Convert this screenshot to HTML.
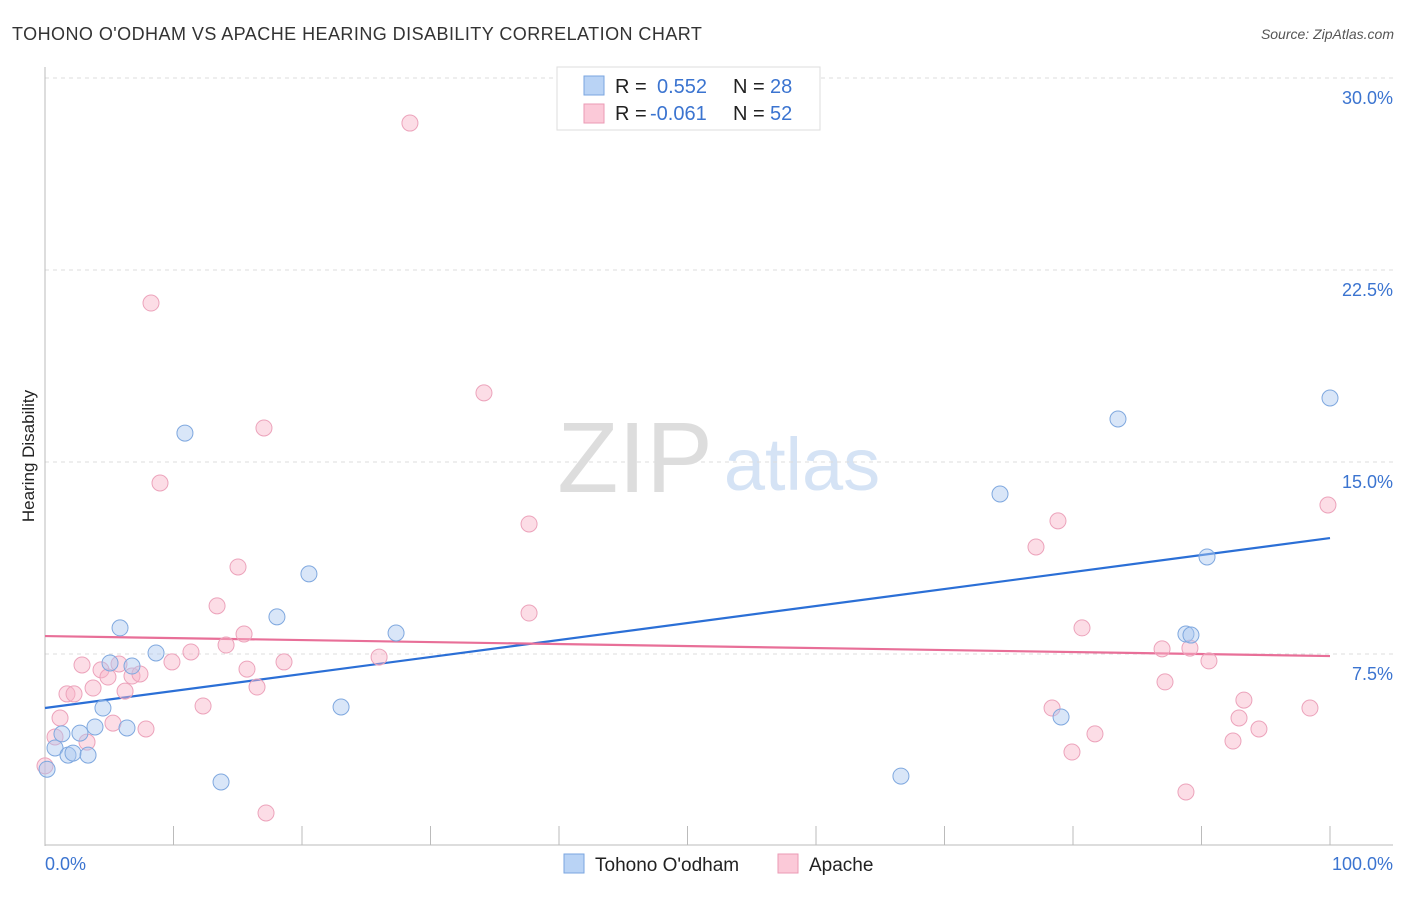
<!DOCTYPE html>
<html><head><meta charset="utf-8"><style>
body{margin:0;background:#fff;font-family:"Liberation Sans",sans-serif;}
svg text{font-family:"Liberation Sans",sans-serif;}
</style></head><body>
<svg id="c" width="1406" height="892" xmlns="http://www.w3.org/2000/svg">
<text x="12" y="40" font-size="18" letter-spacing="0.45" fill="#333">TOHONO O'ODHAM VS APACHE HEARING DISABILITY CORRELATION CHART</text>
<text x="1394" y="39" font-size="14" fill="#555" font-style="italic" text-anchor="end">Source: ZipAtlas.com</text>
<text x="34" y="456" font-size="17" fill="#222" text-anchor="middle" transform="rotate(-90 34 456)">Hearing Disability</text>
<g><text x="635" y="492" font-size="100" fill="#ddd" font-family="Liberation Serif" text-anchor="middle">ZIP</text><text x="802" y="490" font-size="74" fill="#d5e3f5" text-anchor="middle">atlas</text></g>
<g id="grid"></g><g id="axes"></g><g id="lines"></g><g id="pts"></g>
<g>
<rect x="557" y="67" width="263" height="63" fill="#fff" stroke="#ddd"/>
<rect x="584" y="76" width="20" height="19" fill="#b9d3f5" stroke="#7aa6e0"/>
<rect x="584" y="104" width="20" height="19" fill="#fbc9d8" stroke="#eb9ab4"/>
<text x="615" y="93" font-size="20" fill="#222">R =</text><text x="657" y="93" font-size="20" fill="#3b74d0">0.552</text>
<text x="733" y="93" font-size="20" fill="#222">N =</text><text x="770" y="93" font-size="20" fill="#3b74d0">28</text>
<text x="615" y="120" font-size="20" fill="#222">R =</text><text x="650" y="120" font-size="20" fill="#3b74d0">-0.061</text>
<text x="733" y="120" font-size="20" fill="#222">N =</text><text x="770" y="120" font-size="20" fill="#3b74d0">52</text>
</g>
<g>
<rect x="564" y="854" width="20" height="19" fill="#b9d3f5" stroke="#7aa6e0"/>
<text x="595" y="871" font-size="19" fill="#222">Tohono O'odham</text>
<rect x="778" y="854" width="20" height="19" fill="#fbc9d8" stroke="#eb9ab4"/>
<text x="809" y="871" font-size="19" fill="#222">Apache</text>
</g>
</svg>
<script>
const yTicks=[7.5,15,22.5,30];
const yTickLabels=["7.5%","15.0%","22.5%","30.0%"];
const xTickVals=[0,10,20,30,40,50,60,70,80,90,100];
const blueX=[0.16,0.78,1.32,1.79,2.18,2.72,3.35,3.89,4.51,5.06,5.84,6.38,6.77,8.64,10.89,13.7,18.05,20.54,23.04,27.32,66.61,74.32,79.07,83.5,88.79,89.18,90.43,100];
const blueY=[3.0,3.83,4.38,3.55,3.63,4.41,3.55,4.65,5.39,7.15,8.52,4.61,7.03,7.54,16.13,2.5,8.95,10.63,5.43,8.32,2.73,13.75,5.04,16.68,8.28,8.24,11.29,17.5];
const pinkX=[0,0.78,1.17,1.71,2.26,2.88,3.27,3.74,4.36,4.9,5.29,5.76,6.23,6.77,7.39,7.86,8.25,8.95,9.88,11.36,12.3,13.39,14.09,15.02,15.49,15.72,16.5,17.04,17.2,18.6,26.0,28.4,34.16,37.67,37.67,77.12,78.37,78.83,79.92,80.7,81.71,86.93,87.16,88.79,89.1,90.58,92.45,92.92,93.3,94.47,98.44,99.84];
const pinkY=[3.13,4.26,5.0,5.94,5.94,7.07,4.06,6.17,6.88,6.6,4.8,7.11,6.05,6.64,6.72,4.57,21.21,14.18,7.19,7.58,5.47,9.38,7.85,10.9,8.28,6.91,6.21,16.33,1.29,7.19,7.38,28.24,17.7,12.58,9.1,11.68,5.39,12.7,3.67,8.52,4.38,7.7,6.41,2.11,7.73,7.23,4.1,5.0,5.7,4.57,5.39,13.32];
const blueTrend=[5.39,12.03];
const pinkTrend=[8.2,7.42];
const NS="http://www.w3.org/2000/svg";
const X=v=>45+v*12.85;
const Y=v=>846-v*25.6;
function mk(t,a,p){const e=document.createElementNS(NS,t);for(const k in a)e.setAttribute(k,a[k]);document.getElementById(p).appendChild(e);return e;}
yTicks.forEach((t,i)=>{
 const l=mk('line',{x1:45,x2:1393,y1:Y(t),y2:Y(t),stroke:'#ddd','stroke-dasharray':'4,4'},'grid');
 
 
 const tx=mk('text',{x:1393,y:Y(t)+26,'font-size':18,fill:'#3b74d0','text-anchor':'end'},'grid');
 tx.textContent=yTickLabels[i];
 
 
});
mk('line',{x1:45,x2:45,y1:67,y2:846,stroke:'#bbb'},'axes');
mk('line',{x1:45,x2:1393,y1:845,y2:845,stroke:'#bbb'},'axes');
xTickVals.forEach(v=>{const l=mk('line',{x1:X(v),x2:X(v),y1:826,y2:845,stroke:'#bbb'},'axes');
 
 });
let t0=mk('text',{x:45,y:870,'font-size':18,fill:'#3b74d0'},'axes');t0.textContent='0.0%';


let t1=mk('text',{x:1393,y:870,'font-size':18,fill:'#3b74d0','text-anchor':'end'},'axes');t1.textContent='100.0%';


pinkX.forEach((x,i)=>{const c=mk('circle',{cx:X(x),cy:Y(pinkY[i]),r:8,fill:'rgba(248,180,200,0.45)',stroke:'#eca3bb','stroke-width':1},'pts');
 
 });
blueX.forEach((x,i)=>{const c=mk('circle',{cx:X(x),cy:Y(blueY[i]),r:8,fill:'rgba(170,200,240,0.45)',stroke:'#7fa8df','stroke-width':1},'pts');
 
 });
const bl=mk('line',{x1:X(0),x2:X(100),y1:Y(blueTrend[0]),y2:Y(blueTrend[1]),stroke:'#2b6fd6','stroke-width':2.2},'lines');


const pl=mk('line',{x1:X(0),x2:X(100),y1:Y(pinkTrend[0]),y2:Y(pinkTrend[1]),stroke:'#e86f98','stroke-width':2.2},'lines');


</script>
</body></html>
